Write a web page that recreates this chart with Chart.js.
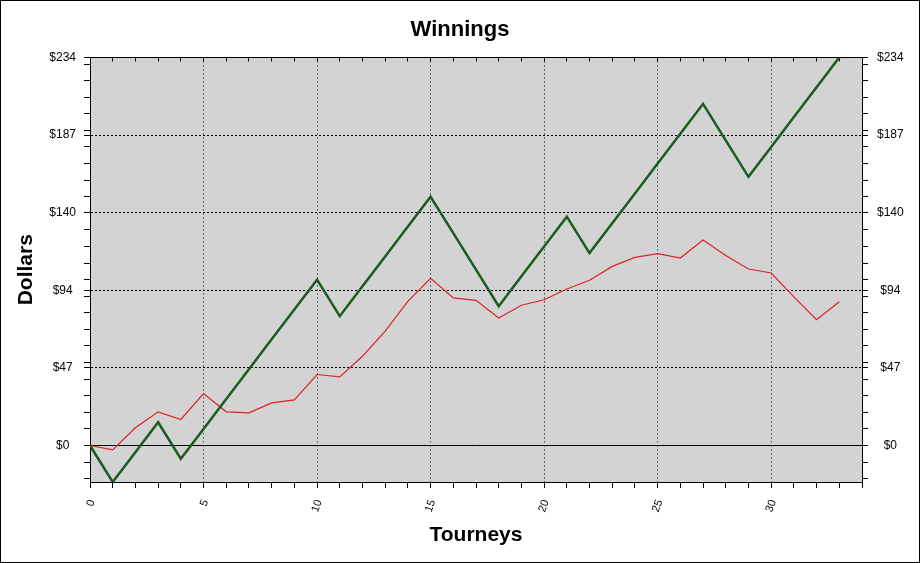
<!DOCTYPE html>
<html>
<head>
<meta charset="utf-8">
<title>Winnings</title>
<script src="https://cdn.jsdelivr.net/npm/chart.js@4.4.0/dist/chart.umd.min.js"></script>
<style>
  html, body { margin: 0; padding: 0; background: #fff; }
  #frame { width: 918px; height: 561px; border: 1px solid #000; }
  canvas { display: block; }
</style>
</head>
<body>
<div id="frame"><canvas id="chart" width="918" height="561"></canvas></div>
<script>
// values
const tourneys = [0, 1, 2, 3, 4, 5, 6, 7, 8, 9, 10, 11, 12, 13, 14, 15, 16,
                  17, 18, 19, 20, 21, 22, 23, 24, 25, 26, 27, 28, 29, 30, 31, 32, 33];
const winnings = [0, -22, -4, 14, -8, 10, 28, 46, 64, 82, 100, 78, 96, 114, 132, 150, 128,
                  106, 84, 102, 120, 138, 116, 134, 152, 170, 188, 206, 184, 162, 180, 198, 216, 234];
const trend = [0, -2.6, 10.7, 20.3, 15.7, 31.3, 20.3, 19.7, 25.7, 27.5, 42.8, 41.4, 53.8, 68.9, 86.9, 100.8, 89.0,
               87.5, 76.9, 84.6, 87.9, 94.4, 99.6, 108.0, 113.4, 115.7, 113.0, 123.9, 114.5, 106.4, 104.0, 89.6, 75.9, 86.7];

const xLabelTicks = [0, 5, 10, 15, 20, 25, 30];
const yMajorTicks = [0, 46.8, 93.6, 140.4, 187.2, 234];
const yTickLabels = ['$0', '$47', '$94', '$140', '$187', '$234'];
const yMinorTicks = [-20, -10, 10, 20, 30, 40, 50, 60, 70, 80, 90, 100, 110, 120,
                     130, 150, 160, 170, 180, 190, 200, 210, 220, 230];
const xMin = 0, xMax = 34, yMin = -22, yMax = 234;

const FONT = '"Liberation Sans", Arial, sans-serif';
const CLEAR = 'rgba(0,0,0,0)';

function intTicks(scale) {
    const ticks = [];
    for (let v = xMin; v <= xMax; v++) ticks.push({ value: v });
    scale.ticks = ticks;
}

function yTicks(scale) {
    const all = yMajorTicks.concat(yMinorTicks).sort((a, b) => a - b);
    scale.ticks = all.map(v => ({ value: v }));
}

function yLabel(v) {
    const i = yMajorTicks.indexOf(v);
    return i >= 0 ? yTickLabels[i] : '';
}

const plotBackground = {
    id: 'plotBackground',
    beforeDraw(chart) {
        const { ctx, chartArea: a } = chart;
        ctx.save();
        ctx.fillStyle = '#d3d3d3';
        ctx.fillRect(a.left, a.top, a.right - a.left, a.bottom - a.top);
        ctx.restore();
    }
};

new Chart(document.getElementById('chart'), {
    type: 'line',
    data: {
        datasets: [
            {
                label: 'Winnings',
                data: tourneys.map((t, i) => ({ x: t, y: winnings[i] })),
                borderColor: '#1a5c1e',
                borderWidth: 2.5,
                pointRadius: 0,
                tension: 0
            },
            {
                label: 'Trend',
                data: tourneys.map((t, i) => ({ x: t, y: trend[i] })),
                borderColor: '#e0202c',
                borderWidth: 1.2,
                pointRadius: 0,
                tension: 0
            }
        ]
    },
    options: {
        responsive: false,
        devicePixelRatio: 1,
        animation: false,
        layout: { padding: 0 },
        plugins: {
            legend: { display: false },
            tooltip: { enabled: false },
            title: {
                display: true,
                text: 'Winnings',
                color: '#000',
                font: { family: FONT, size: 22, weight: 'bold' },
                padding: { top: 16, bottom: 4 }
            }
        },
        scales: {
            x: {
                type: 'linear',
                position: 'bottom',
                min: xMin,
                max: xMax,
                afterBuildTicks: intTicks,
                afterFit(scale) { scale.height = 80; },
                ticks: {
                    autoSkip: false,
                    minRotation: 70,
                    maxRotation: 70,
                    padding: 10,
                    labelOffset: 2,
                    color: '#000',
                    font: { family: FONT, size: 11 },
                    callback: v => xLabelTicks.includes(v) ? String(v) : ''
                },
                grid: {
                    color: ctx => {
                        const v = ctx.tick ? ctx.tick.value : null;
                        return (v !== null && v % 5 === 0 && v > xMin && v < xMax) ? '#000' : CLEAR;
                    },
                    tickColor: '#000',
                    tickLength: 6
                },
                border: { color: '#000', width: 1, dash: [1, 3] },
                title: {
                    display: true,
                    text: 'Tourneys',
                    color: '#000',
                    font: { family: FONT, size: 21, weight: 'bold' },
                    padding: { top: 0, bottom: 14 }
                }
            },
            x2: {
                type: 'linear',
                position: 'top',
                min: xMin,
                max: xMax,
                afterBuildTicks: intTicks,
                afterFit(scale) { scale.height = 10; },
                ticks: { display: false },
                grid: { drawOnChartArea: false, color: CLEAR, tickColor: '#000', tickLength: -4 },
                border: { color: '#000', width: 1 }
            },
            y: {
                type: 'linear',
                position: 'left',
                min: yMin,
                max: yMax,
                afterBuildTicks: yTicks,
                afterFit(scale) { scale.width = 89; },
                ticks: {
                    autoSkip: false,
                    crossAlign: 'center',
                    padding: 8,
                    color: '#000',
                    font: { family: FONT, size: 12 },
                    callback: v => yLabel(v)
                },
                grid: {
                    color: ctx => {
                        const v = ctx.tick ? ctx.tick.value : null;
                        return (v !== null && yMajorTicks.includes(v) && v < yMax) ? '#000' : CLEAR;
                    },
                    tickColor: '#000',
                    tickLength: 6
                },
                border: {
                    color: '#000',
                    width: 1,
                    dash: ctx => (ctx.tick && ctx.tick.value === 0) ? [] : [2, 2]
                },
                title: {
                    display: true,
                    text: 'Dollars',
                    color: '#000',
                    font: { family: FONT, size: 21, weight: 'bold' },
                    padding: { top: 13, bottom: 0 }
                }
            },
            y2: {
                type: 'linear',
                position: 'right',
                min: yMin,
                max: yMax,
                afterBuildTicks: yTicks,
                afterFit(scale) { scale.width = 57; },
                ticks: {
                    autoSkip: false,
                    crossAlign: 'center',
                    padding: 9,
                    color: '#000',
                    font: { family: FONT, size: 12 },
                    callback: v => yLabel(v)
                },
                grid: { drawOnChartArea: false, color: CLEAR, tickColor: '#000', tickLength: 6 },
                border: { color: '#000', width: 1 }
            }
        }
    },
    plugins: [plotBackground]
});
</script>
</body>
</html>
